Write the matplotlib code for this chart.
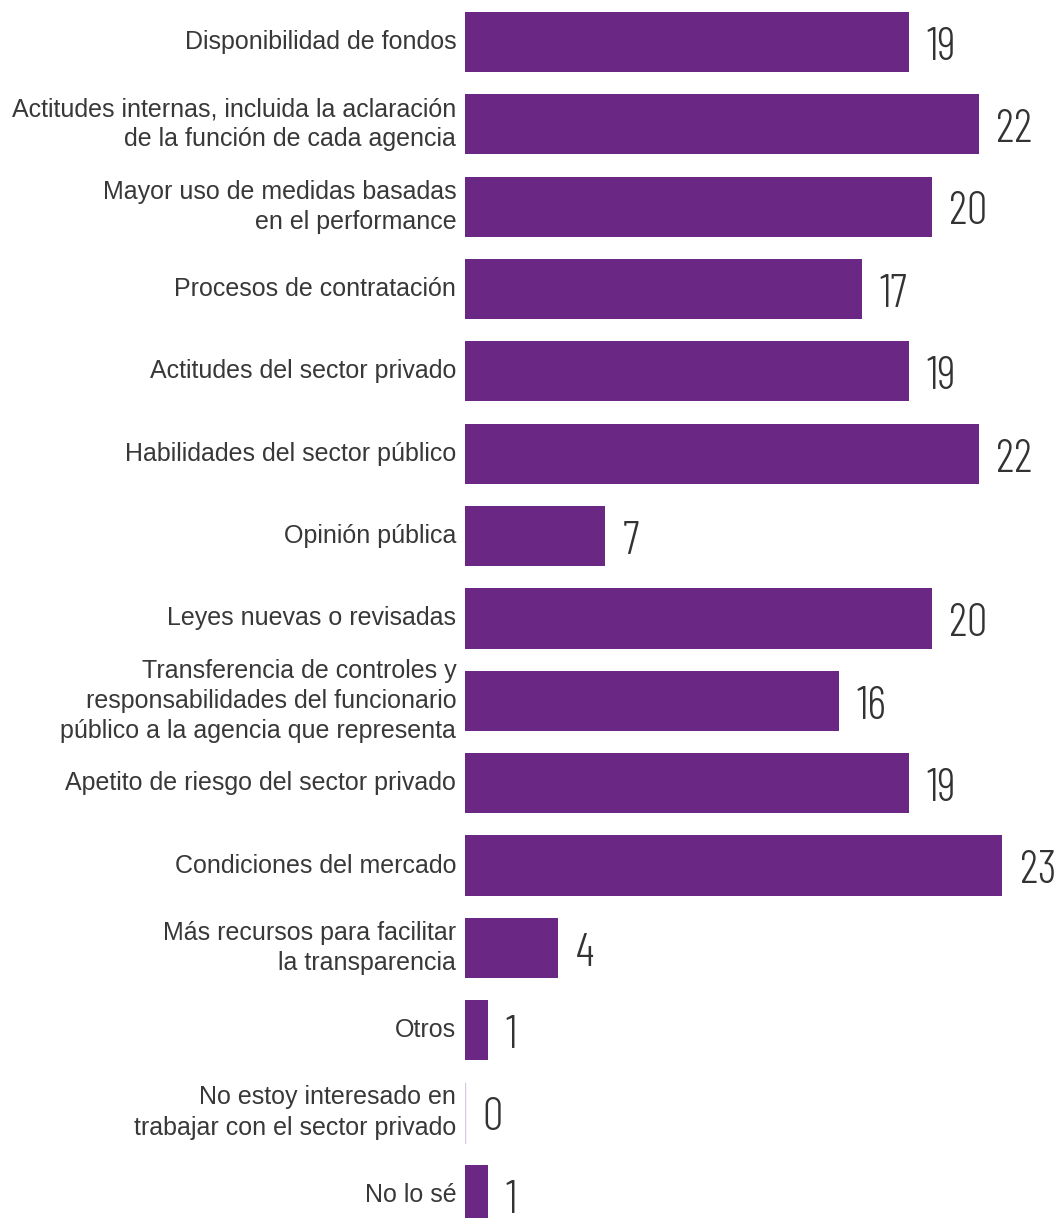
import matplotlib
matplotlib.use("Agg")
import matplotlib.pyplot as plt

categories = [
    "Disponibilidad de fondos",
    "Actitudes internas, incluida la aclaración\nde la función de cada agencia",
    "Mayor uso de medidas basadas\nen el performance",
    "Procesos de contratación",
    "Actitudes del sector privado",
    "Habilidades del sector público",
    "Opinión pública",
    "Leyes nuevas o revisadas",
    "Transferencia de controles y\nresponsabilidades del funcionario\npúblico a la agencia que representa",
    "Apetito de riesgo del sector privado",
    "Condiciones del mercado",
    "Más recursos para facilitar\nla transparencia",
    "Otros",
    "No estoy interesado en\ntrabajar con el sector privado",
    "No lo sé",
]
# bar lengths as drawn in the reference (the "Opinión pública" bar is drawn at 6)
values = [19, 22, 20, 17, 19, 22, 6, 20, 16, 19, 23, 4, 1, 0, 1]
value_labels = ["19", "22", "20", "17", "19", "22", "7", "20", "16", "19", "23", "4", "1", "0", "1"]

bar_color = "#6B2784"
text_color = "#333333"

fig = plt.figure(figsize=(10.55, 12.18), dpi=100)
ax = fig.add_axes([465 / 1055, 0, 590 / 1055, 1])

ypos = list(range(len(values)))
ax.barh(ypos, values, height=0.73, color=bar_color, linewidth=0)
# zero-value bar shows as a faint line
for y, v in zip(ypos, values):
    if v == 0:
        ax.plot([0, 0], [y - 0.365, y + 0.365], color="#d8c8de", lw=1)

ax.set_xlim(0, 25.27)
ax.set_ylim(14.28, -0.51)

for y, v, vl, lab in zip(ypos, values, value_labels, categories):
    ax.text(v + 0.75, y + 0.07, vl, va="center", ha="left", fontsize=33,
            color=text_color, fontweight=300,
            family=["Barlow Condensed", "DejaVu Sans"])
    ax.text(-0.38, y, lab, va="center", ha="right", fontsize=18,
            color="#383838", family=["Liberation Sans", "DejaVu Sans"],
            linespacing=1.33, clip_on=False)

ax.axis("off")
fig.savefig("out.png", dpi=100)
